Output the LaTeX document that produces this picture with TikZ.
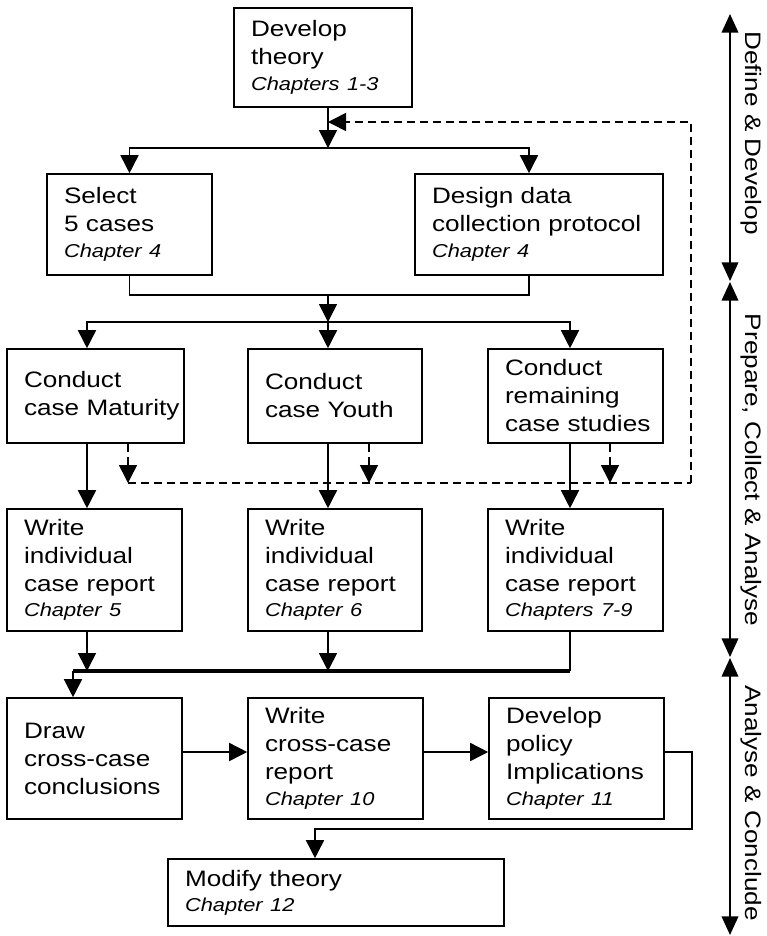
\documentclass[tikz,border=0pt]{standalone}
\usepackage{fontspec}
\setmainfont{Liberation Sans}[FakeStretch=1.17]
\newfontfamily\boxfont{Liberation Sans}[FakeStretch=1.17]
\usetikzlibrary{arrows.meta,calc}
\hyphenpenalty=10000\relax
\exhyphenpenalty=10000\relax
\newcommand\chapnote[1]{{\fontsize{14}{21}\selectfont\itshape #1}}
\newcommand\flowbox[6]{%
  \pgfmathsetmacro\fbw{(#4-#2)*0.75}%
  \pgfmathsetmacro\fbh{(#5-#3)*0.75}%
  \pgfmathsetmacro\fbt{(#4-#2-34)*0.75}%
  \node[flowrect, minimum width=\fbw pt, minimum height=\fbh pt, text width=\fbt pt] (#1) at ({(#2+#4)/2},{(#3+#5)/2}) {#6\par\vskip-\prevdepth};}
\tikzset{
  flowrect/.style={draw, line width=1.2pt, inner xsep=12.75pt, inner ysep=0pt, align=left,
    font=\boxfont\fontsize{16.75}{21}\selectfont},
  conn/.style={line width=1.2pt},
  arr/.style={conn, -{Triangle[length=13.5pt,width=13.5pt]}},
  darr/.style={conn, dash pattern=on 6pt off 3.75pt, -{Triangle[length=13.5pt,width=13.5pt]}},
  dline/.style={conn, dash pattern=on 6pt off 3.75pt},
  thickline/.style={line width=2.6pt},
  sarr/.style={conn, {Triangle[length=14pt,width=12.5pt]}-{Triangle[length=14pt,width=12.5pt]}},
  sidelabel/.style={rotate=-90, anchor=base, inner sep=0pt, font=\boxfont\fontsize{16.75}{21}\selectfont}
}
\begin{document}
\begin{tikzpicture}[x=0.75pt,y=-0.75pt]
\useasboundingbox (0,0) rectangle (767,936);
\fill[white] (0,0) rectangle (767,936);

% boxes
\flowbox{dev}{234}{8}{412}{107}{Develop\\theory\\[-2pt]\chapnote{Chapters 1-3}}
\flowbox{sel}{47}{174}{212}{275}{Select\\5 cases\\[-2pt]\chapnote{Chapter 4}}
\flowbox{des}{415}{174}{663}{275}{Design data\\\mbox{collection protocol}\\[-2pt]\chapnote{Chapter 4}}
\flowbox{cm}{7}{349}{184}{443}{Conduct\\\mbox{case Maturity}}
\flowbox{cy}{248}{349}{422}{443}{Conduct\\case Youth}
\flowbox{cr}{488}{349}{663}{443}{Conduct\\remaining\\\mbox{case studies}}
\flowbox{wm}{7}{509}{182}{631}{Write\\individual\\case report\\[-2pt]\chapnote{Chapter 5}}
\flowbox{wy}{248}{509}{422}{631}{Write\\individual\\case report\\[-2pt]\chapnote{Chapter 6}}
\flowbox{wr}{488}{509}{663}{631}{Write\\individual\\case report\\[-2pt]\chapnote{Chapters 7-9}}
\flowbox{dr}{7}{698}{182}{819}{Draw\\cross-case\\conclusions}
\flowbox{wc}{248}{698}{423}{819}{Write\\cross-case\\report\\[-2pt]\chapnote{Chapter 10}}
\flowbox{dp}{489}{698}{664}{819}{Develop\\policy\\Implications\\[-2pt]\chapnote{Chapter 11}}
\flowbox{mt}{168}{859}{504}{926}{Modify theory\\[-2pt]\chapnote{Chapter 12}}

% junction coordinates
\coordinate (j1) at (328,148);
\coordinate (j2) at (328,295);
\coordinate (j3) at (328,322);
\coordinate (k1) at (87,322);
\coordinate (k3) at (570,322);
\coordinate (a2) at (529,148);
\coordinate (fb) at (328,122);
\coordinate (d1) at (128,483);
\coordinate (d2) at (369,483);
\coordinate (d3) at (610,483);
\coordinate (dc) at (691,483);
\coordinate (m0) at (73,671);
\coordinate (m1) at (87,671);
\coordinate (m2) at (328,671);
\coordinate (m3) at (570,671);
\coordinate (h) at (0,752);
\coordinate (r1) at (692,829);
\coordinate (r2) at (315,829);

% define & develop
\draw[arr] (dev.south -| j1) -- (j1);
\draw[arr] (j1) -| (sel.north);
\draw[arr] (j1) -| (des.north -| a2);
\draw[conn] (sel.south) |- (j2);
\draw[conn] (des.south -| a2) |- (j2);
\draw[arr] (j2) -- (j3);

% conduct
\draw[arr] (j3) -| (cm.north -| k1);
\draw[arr] (j3) -- (cy.north -| j3);
\draw[arr] (j3) -| (cr.north -| k3);

% conduct -> write
\draw[arr] (cm.south -| k1) -- (wm.north -| k1);
\draw[arr] (cy.south -| j3) -- (wy.north -| j3);
\draw[arr] (cr.south -| k3) -- (wr.north -| k3);

% feedback (dashed)
\draw[darr] (cm.south -| d1) -- (d1);
\draw[darr] (cy.south -| d2) -- (d2);
\draw[darr] (cr.south -| d3) -- (d3);
\draw[dline] (d1) -- (dc);
\draw[darr] (dc) |- (fb);

% write -> merge
\draw[arr] (wm.south -| m1) -- (m1);
\draw[arr] (wy.south -| m2) -- (m2);
\draw[conn] (wr.south -| m3) -- (m3);
\draw[thickline] (m0) -- (m3);
\draw[arr] (m0) -- (dr.north -| m0);

% analyse row
\draw[arr] (dr.east |- h) -- (wc.west |- h);
\draw[arr] (wc.east |- h) -- (dp.west |- h);
\draw[arr] (dp.east |- h) -| (r1) -- (r2) -- (mt.north -| r2);

% side phases
\coordinate (s0) at (730,14);
\coordinate (s1) at (730,281);
\coordinate (s2) at (730,282);
\coordinate (s3) at (730,657);
\coordinate (s4) at (730,658);
\coordinate (s5) at (730,935);
\draw[sarr] (s0) -- (s1);
\draw[sarr] (s2) -- (s3);
\draw[sarr] (s4) -- (s5);
\node[sidelabel] (l1) at (745,133) {Define \& Develop};
\node[sidelabel] (l2) at (745,470) {Prepare, Collect \& Analyse};
\node[sidelabel] (l3) at (745,803) {Analyse \& Conclude};
\end{tikzpicture}
\end{document}
